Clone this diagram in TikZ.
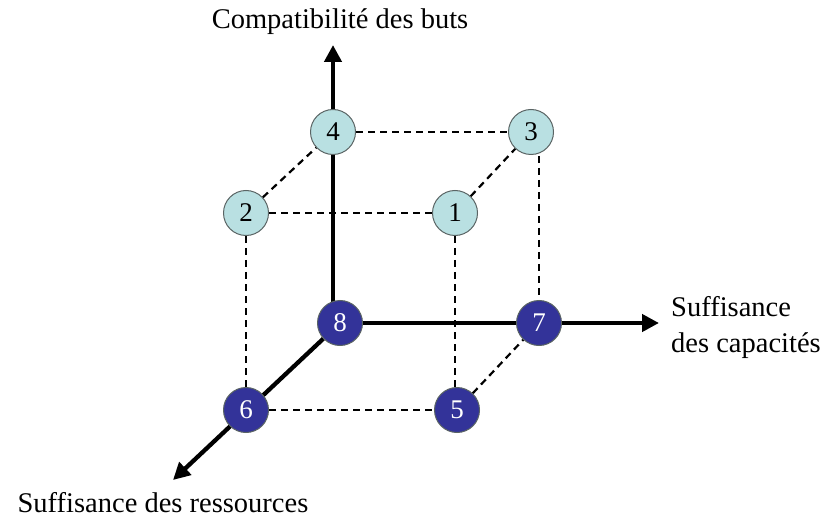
\documentclass[tikz,border=0pt]{standalone}
\usepackage{fontspec}
\setmainfont{Liberation Serif}
\usetikzlibrary{arrows.meta,backgrounds}
\definecolor{lightnode}{RGB}{185,224,226}
\definecolor{darknode}{RGB}{51,51,153}
\definecolor{nodeedge}{RGB}{90,100,100}
\begin{document}
\begin{tikzpicture}[x=1pt,y=-1pt,
  lnode/.style={circle,draw=nodeedge,line width=1pt,fill=lightnode,minimum size=45pt,inner sep=0pt,font=\fontsize{27}{29}\selectfont},
  dnode/.style={circle,draw=nodeedge,line width=1pt,fill=darknode,text=white,minimum size=45pt,inner sep=0pt,font=\fontsize{27}{29}\selectfont},
  dline/.style={draw=black,line width=2.2pt,dash pattern=on 7pt off 5pt},
  axis/.style={draw=black,line width=4.3pt,-{Triangle[length=17pt,width=17pt]}},
  lbl/.style={font=\fontsize{28.5}{36}\selectfont,inner sep=0pt}]
\useasboundingbox (0,0) rectangle (826,518);
% nodes
\node[lnode] (n4) at (333,132) {4};
\node[lnode] (n3) at (531,132) {3};
\node[lnode] (n2) at (246,213) {2};
\node[lnode] (n1) at (455,213) {1};
\node[dnode] (n8) at (340,323) {8};
\node[dnode] (n7) at (539,323) {7};
\node[dnode] (n6) at (246,410) {6};
\node[dnode] (n5) at (457,410) {5};
\coordinate (ytip) at (333,45);
\coordinate (xtip) at (659,323);
\coordinate (ztip) at (173,480);
\begin{pgfonlayer}{background}
% axes
\draw[axis] (n4 |- n8) -- (ytip);
\draw[axis] (n8) -- (xtip);
\draw[axis] (n8) -- (ztip);
% dashed edges
\draw[dline] (n2) -- (n4);
\draw[dline] (n4) -- (n3);
\draw[dline] (n2) -- (n1);
\draw[dline] (n1) -- (n3);
\draw[dline] (n2) -- (n6);
\draw[dline] (n1) -- (n1 |- n5);
\draw[dline] (n7 |- n3) -- (n7);
\draw[dline] (n6) -- (n5);
\draw[dline] (n5) -- (n7);
\end{pgfonlayer}
% labels
\node[lbl] (ty) at (340,22) {Compatibilité des buts};
\node[lbl,anchor=west,align=left] (tx) at (671,327) {Suffisance\\des capacités};
\node[lbl] (tz) at (163,503) {Suffisance des ressources};
\end{tikzpicture}
\end{document}
